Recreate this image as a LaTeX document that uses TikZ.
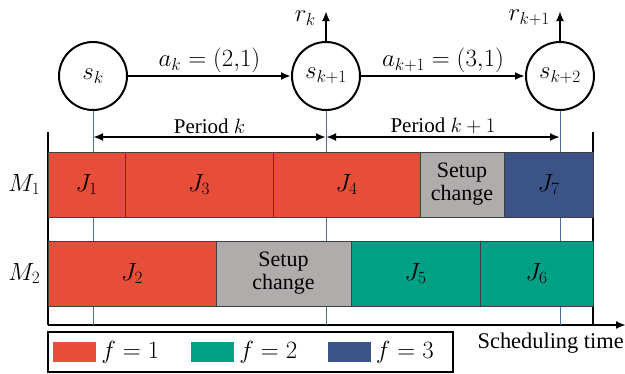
\documentclass[tikz,border=0pt]{standalone}
\usepackage{fontspec}
\setmainfont{Liberation Serif}
\usetikzlibrary{positioning, arrows.meta, calc}
\definecolor{RedA}{HTML}{E64E3A}
\definecolor{GreenA}{HTML}{00A086}
\definecolor{BlueA}{HTML}{3B5387}
\definecolor{GrayA}{HTML}{B0ACAB}
\definecolor{LineA}{HTML}{4E6B9E}
\tikzset{
  state/.style={circle, draw, line width=2pt, minimum size=68pt, inner sep=0pt,
                font=\fontsize{24}{26}\selectfont},
  job/.style={draw=black!75, line width=1pt, minimum height=65pt, inner sep=0pt,
              align=center, font=\fontsize{24}{26}\selectfont},
  red/.style={fill=RedA},
  green/.style={fill=GreenA},
  blue/.style={fill=BlueA},
  setup/.style={fill=GrayA, font=\fontsize{22}{23}\selectfont},
  arr/.style={-{Latex[length=10pt, width=8pt]}, line width=2pt},
  arr2/.style={{Latex[length=10pt, width=8pt]}-{Latex[length=10pt, width=8pt]}, line width=2pt},
  axis/.style={line width=2.2pt},
  tline/.style={draw=LineA, line width=1pt},
  lbl/.style={font=\fontsize{21}{24}\selectfont, inner sep=2pt},
  mlbl/.style={font=\fontsize{23}{26}\selectfont, inner sep=2pt},
  swatch/.style={minimum width=43pt, minimum height=20pt, inner sep=0pt},
}
\begin{document}
\begin{tikzpicture}[x=1pt, y=-1pt]
  \useasboundingbox (0,0) rectangle (625,373);
  % states and actions
  \node[state] (s0) at (93,76) {$s_k$};
  \node[state] (s1) at (326,76) {$s_{k+1}$};
  \node[state] (s2) at (560,76) {$s_{k+2}$};
  \draw[arr] (s0) -- node[mlbl, above=0pt] {$a_k=(2{,}1)$} (s1);
  \draw[arr] (s1) -- node[mlbl, above=0pt] {$a_{k+1}=(3{,}1)$} (s2);
  % rewards
  \coordinate (r1) at (326,11);
  \coordinate (r2) at (560,11);
  \draw[arr] (s1) -- (r1);
  \draw[arr] (s2) -- (r2);
  \node[mlbl, anchor=east, inner sep=0pt] (rk) at (316,18) {$r_k$};
  \node[mlbl, anchor=east, inner sep=0pt] (rk1) at (550,18) {$r_{k+1}$};
  % axes
  \coordinate (o) at (48,325);
  \coordinate (tend) at (626,325);
  \coordinate (ltop) at (48,132);
  \coordinate (rtop) at (593,132);
  \coordinate (rbot) at (593,325);
  \draw[axis] (ltop) -- (o);
  \draw[axis] (rtop) -- (rbot);
  \draw[axis, -{Latex[length=10pt, width=8pt]}] (o) -- (tend);
  \node[lbl, font=\fontsize{22.4}{24}\selectfont, anchor=north east, inner sep=0pt] (tlab) at (624,333) {Scheduling time};
  % decision epochs
  \foreach \s in {s0,s1,s2}
    \draw[tline] (\s.south) -- (\s.south |- o);
  % periods
  \coordinate (p0) at (93,137);
  \coordinate (p1) at (326,137);
  \coordinate (p2) at (560,137);
  \draw[arr2] (p0) -- node[lbl, above=0pt] {Period $k$} (p1);
  \draw[arr2] (p1) -- node[lbl, above=0pt] {Period $k+1$} (p2);
  % machine 1
  \node[job, red, minimum width=77pt] (J1) at (86.5,184.5) {$J_1$};
  \node[job, red, minimum width=148pt] (J3) at (199,184.5) {$J_3$};
  \node[job, red, minimum width=147pt] (J4) at (346.5,184.5) {$J_4$};
  \node[job, setup, minimum width=84pt] (C1) at (462,184.5) {Setup\\change};
  \node[job, blue, minimum width=89pt] (J7) at (548.5,184.5) {$J_7$};
  % machine 2
  \node[job, red, minimum width=168pt] (J2) at (132,273.5) {$J_2$};
  \node[job, setup, minimum width=135pt] (C2) at (283.5,273.5) {Setup\\change};
  \node[job, green, minimum width=129pt] (J5) at (415.5,273.5) {$J_5$};
  \node[job, green, minimum width=113pt] (J6) at (536.5,273.5) {$J_6$};
  \node[mlbl, left=5pt of J1] (M1) {$M_1$};
  \node[mlbl, left=5pt of J2] (M2) {$M_2$};
  % legend
  \node[draw, line width=1.2pt, minimum width=405pt, minimum height=40pt, inner sep=0pt] (leg) at (250.5,352) {};
  \node[swatch, red] (f1) at (74.5,352) {};
  \node[swatch, green] (f2) at (212.5,352) {};
  \node[swatch, blue] (f3) at (349,352) {};
  \node[mlbl, font=\fontsize{24}{26}\selectfont, right=3pt of f1] (f1t) {$f=1$};
  \node[mlbl, font=\fontsize{24}{26}\selectfont, right=3pt of f2] (f2t) {$f=2$};
  \node[mlbl, font=\fontsize{24}{26}\selectfont, right=3pt of f3] (f3t) {$f=3$};
\end{tikzpicture}
\end{document}
